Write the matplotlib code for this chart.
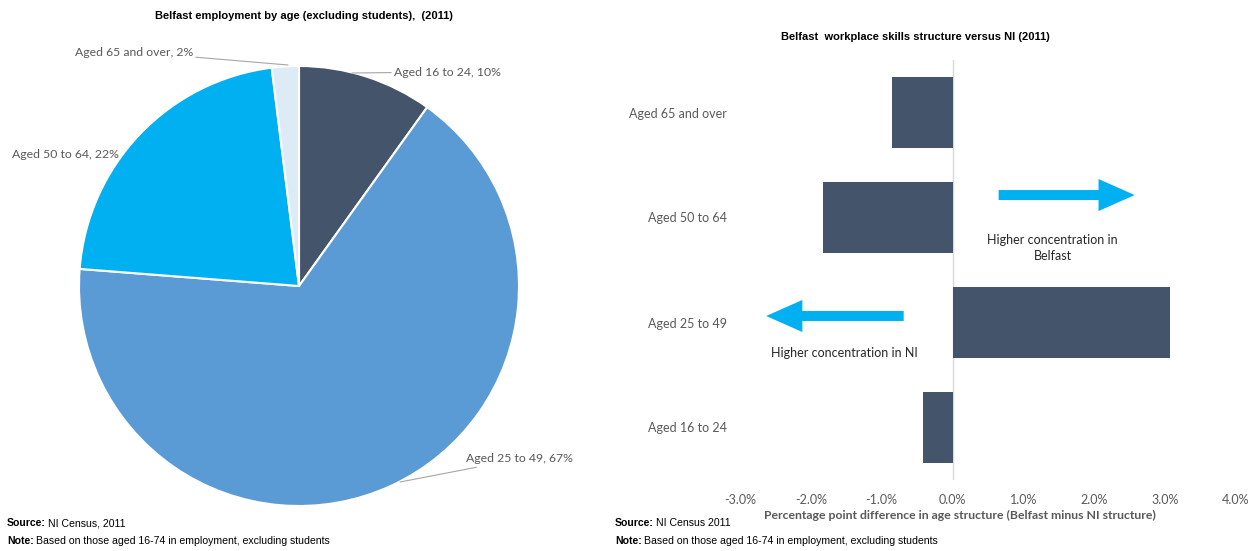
import matplotlib.pyplot as plt
import numpy as np

# employment share by age band (pie)
pie_labels = ['Aged 16 to 24', 'Aged 25 to 49', 'Aged 50 to 64', 'Aged 65 and over']
pie_shares = [10, 67, 22, 2]
pie_colors = ['#44546A', '#5B9BD5', '#00B0F0', '#DDEBF7']

# percentage point difference, Belfast minus NI
bar_labels = ['Aged 16 to 24', 'Aged 25 to 49', 'Aged 50 to 64', 'Aged 65 and over']
bar_diffs = [-0.42, 3.07, -1.83, -0.85]
x_ticks = [-3, -2, -1, 0, 1, 2, 3, 4]

W, H = 1256, 551
fig = plt.figure(figsize=(W / 100, H / 100), dpi=100)

def box(x0, y0, x1, y1):
    # pixel box (top-left origin) to figure fraction
    return [x0 / W, (H - y1) / H, (x1 - x0) / W, (y1 - y0) / H]

body = ['Lato', 'DejaVu Sans']
grey = '#595959'

# ---- pie ----
ax1 = fig.add_axes(box(79, 66, 519, 506))
wedges, _ = ax1.pie(pie_shares, colors=pie_colors, startangle=90, counterclock=False,
                    wedgeprops=dict(edgecolor='white', linewidth=1.5))
ax1.set_xlim(-1, 1)
ax1.set_ylim(-1, 1)
ax1.set_aspect('equal')
ax1.axis('off')

def px(x, y):
    return ((x - 299) / 220, (286 - y) / 220)

pct = [f'{l}, {v}%' for l, v in zip(pie_labels, pie_shares)]
lp = dict(arrowstyle='-', color='#a6a6a6', lw=0.8, shrinkA=0, shrinkB=0)
ax1.annotate(pct[0], xy=px(352, 73), xytext=px(394, 72), ha='left', va='center',
             fontsize=8.8, color=grey, family=body, arrowprops=lp, annotation_clip=False)
ax1.annotate(pct[1], xy=px(400, 482), xytext=px(466, 459), ha='left', va='center',
             fontsize=8.8, color=grey, family=body, arrowprops=lp, annotation_clip=False)
ax1.annotate(pct[2], xy=px(65, 155), ha='center', va='center',
             fontsize=8.8, color=grey, family=body, annotation_clip=False)
ax1.annotate(pct[3], xy=px(288, 65), xytext=px(193, 52), ha='right', va='center',
             fontsize=8.8, color=grey, family=body, arrowprops=lp, annotation_clip=False)

fig.text(304 / W, 1 - 16 / H, 'Belfast employment by age (excluding students),  (2011)',
         ha='center', va='center', fontsize=8, fontweight='bold', family='Liberation Sans')

# ---- bars ----
ax2 = fig.add_axes(box(740, 60, 1236, 480))
y = np.arange(len(bar_labels))
ax2.barh(y, bar_diffs, height=0.667, color='#44546A')
ax2.set_xlim(-3, 4)
ax2.set_ylim(-0.5, 3.5)
ax2.axvline(0, color='#d9d9d9', lw=1, zorder=0)
for s in ax2.spines.values():
    s.set_visible(False)
ax2.set_yticks(y)
ax2.set_yticklabels(bar_labels, family=body, fontsize=9, color=grey)
ax2.set_xticks(x_ticks)
ax2.set_xticklabels([f'{v:.1f}%' for v in x_ticks], family=body, fontsize=9, color=grey)
ax2.tick_params(length=0, axis='y', pad=9.4)
ax2.tick_params(length=0, axis='x', pad=10)
ax2.set_xlabel('Percentage point difference in age structure (Belfast minus NI structure)',
               family=body, fontsize=8.8, fontweight='bold', color=grey, labelpad=6)
ax2.xaxis.set_label_coords((960 - 740) / 496, -0.072)

ax2.arrow(0.65, 2.214, 1.92, 0, width=0.095, head_width=0.305, head_length=0.51,
          length_includes_head=True, color='#00B0F0', lw=0)
ax2.arrow(-0.69, 1.062, -1.94, 0, width=0.095, head_width=0.305, head_length=0.51,
          length_includes_head=True, color='#00B0F0', lw=0)
ax2.text(1.41, 1.71, 'Higher concentration in\nBelfast', ha='center', va='center',
         family=body, fontsize=9, color='#262626', linespacing=1.35)
ax2.text(-1.52, 0.705, 'Higher concentration in NI', ha='center', va='center',
         family=body, fontsize=9, color='#262626')

fig.text(915 / W, 1 - 37 / H, 'Belfast  workplace skills structure versus NI (2011)',
         ha='center', va='center', fontsize=8, fontweight='bold', family='Liberation Sans')

# ---- footnotes ----
def foot(x, yy, head, rest):
    t = fig.text(x / W, 1 - yy / H, head, fontsize=7.6, fontweight='bold',
                 family='Liberation Sans', va='center')
    fig.canvas.draw()
    bb = t.get_window_extent()
    fig.text(bb.x1 / W + 2 / W, 1 - yy / H, rest, fontsize=7.6,
             family='Liberation Sans', va='center')

foot(7, 523, 'Source:', 'NI Census, 2011')
foot(7, 541, 'Note:', 'Based on those aged 16-74 in employment, excluding students')
foot(615, 523, 'Source:', 'NI Census 2011')
foot(615, 541, 'Note:', 'Based on those aged 16-74 in employment, excluding students')

fig.savefig('out.png', dpi=100)
